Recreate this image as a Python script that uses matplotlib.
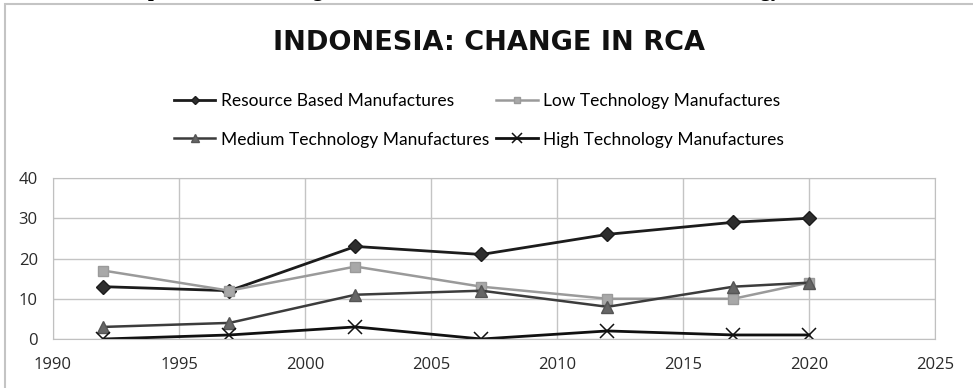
import matplotlib.pyplot as plt
from matplotlib.patches import Rectangle

years = [1992, 1997, 2002, 2007, 2012, 2017, 2020]
resource_based = [13, 12, 23, 21, 26, 29, 30]
low_tech = [17, 12, 18, 13, 10, 10, 14]
medium_tech = [3, 4, 11, 12, 8, 13, 14]
high_tech = [0, 1, 3, 0, 2, 1, 1]
labels = ['Resource Based Manufactures', 'Low Technology Manufactures',
          'Medium Technology Manufactures', 'High Technology Manufactures']

fig = plt.figure(figsize=(9.73, 3.88), dpi=100)
ax = fig.add_axes([0.0545, 0.1263, 0.9065, 0.4149])

# caption of the page above the chart, mostly cut off
fig.text(0.115, 1 + 4.2 / 388, 'Graph 3.1: RCA Change in Indonesian Manufactures Based on Technology',
         family='Liberation Serif', weight='bold', fontsize=15, va='baseline', ha='left')

# chart area border
fig.patches.append(Rectangle((5 / 973, -0.2), 1.5, 1.2 - 4 / 388, transform=fig.transFigure,
                             fill=False, edgecolor='#c4c4c4', lw=1.5, zorder=0))

l1, = ax.plot(years, resource_based, color='#1c1c1c', lw=2.0, marker='D', ms=7,
              mfc='#2e2e2e', mec='#1c1c1c', label=labels[0])
l2, = ax.plot(years, low_tech, color='#9a9a9a', lw=1.8, marker='s', ms=7.5,
              mfc='#a8a8a8', mec='#9a9a9a', label=labels[1])
l3, = ax.plot(years, medium_tech, color='#3c3c3c', lw=1.8, marker='^', ms=8.5,
              mfc='#666666', mec='#555555', label=labels[2])
l4, = ax.plot(years, high_tech, color='#111111', lw=2.0, marker='x', ms=10, mew=1.1,
              label=labels[3])

ax.set_xlim(1990, 2025)
ax.set_ylim(0, 40)
ax.set_xticks(range(1990, 2026, 5))
ax.set_yticks(range(0, 41, 10))
ax.grid(True, color='#c4c4c4', lw=1)
ax.set_axisbelow(True)
for s in ax.spines.values():
    s.set_color('#c0c0c0')
ax.tick_params(length=0, labelsize=12, labelcolor='#2a2a2a')
ax.tick_params(axis='y', pad=11)
ax.tick_params(axis='x', pad=13)
for t in ax.get_xticklabels() + ax.get_yticklabels():
    t.set_family('Open Sans')

fig.text(0.503, 0.888, 'INDONESIA: CHANGE IN RCA', family='DejaVu Sans', weight='bold',
         fontsize=19.5, ha='center', va='center', color='#111111')

# legend filled row by row: two entries per row
handles = [l1, l3, l2, l4]
leg = fig.legend(handles, [h.get_label() for h in handles], loc='center',
                 bbox_to_anchor=(0.492, 0.69), ncol=2, frameon=False,
                 prop={'family': 'Lato', 'size': 12.5}, handlelength=2.4, handletextpad=0.3,
                 columnspacing=0.4, labelspacing=1.3, markerscale=0.65)

fig.savefig('out.png', dpi=100)
